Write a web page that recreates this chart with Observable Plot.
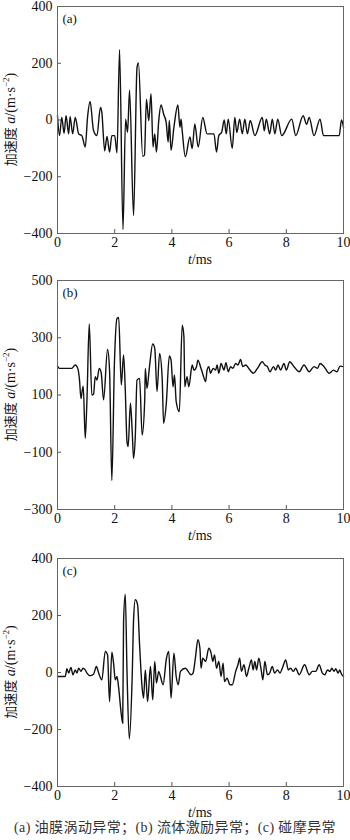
<!DOCTYPE html>
<html><head><meta charset="utf-8">
<script src="https://cdn.jsdelivr.net/npm/d3@7"></script>
<script src="https://cdn.jsdelivr.net/npm/@observablehq/plot@0.6"></script>
<style>
body{margin:0;background:#fff;width:350px;}
#chart svg{display:block;}
.cap{font-family:"Liberation Serif","Noto Sans CJK SC",serif;font-size:14px;letter-spacing:0.4px;color:#333;text-align:center;height:22px;line-height:20px;white-space:nowrap;}
</style></head><body><div id="chart"></div>
<script>
// shared x ticks (ms)
const xTicks = [0, 2, 4, 6, 8, 10];

// (a) oil whirl
const tA = [0.00,0.07,0.15,0.23,0.30,0.39,0.44,0.53,0.62,0.74,
  0.85,0.97,1.05,1.14,1.26,1.38,1.50,1.55,1.65,1.73,
  1.82,1.90,2.00,2.08,2.17,2.29,2.38,2.45,2.52,2.66,
  2.78,2.83,2.98,3.04,3.11,3.19,3.27,3.34,3.40,3.46,
  3.54,3.62,3.71,3.80,3.87,3.91,3.97,4.07,4.21,4.28,
  4.32,4.36,4.47,4.63,4.71,4.80,4.92,5.08,5.23,5.47,
  5.56,5.64,5.74,5.83,5.90,5.97,6.11,6.20,6.27,6.37,
  6.46,6.55,6.64,6.74,6.90,7.16,7.23,7.30,7.42,7.51,
  7.60,7.70,7.84,8.19,8.33,8.59,8.71,8.80,8.97,9.18,
  9.30,9.85,9.93,10.0];
const aA = [15,-55,9,-47,15,-49,12,-49,9,-49,
  -55,-95,9,65,-37,-55,44,27,-109,-58,
  -113,-55,-55,-116,248,-386,3,-43,105,-337,
  184,201,-128,-124,73,-2,93,-95,-49,-113,
  -2,53,21,-8,-78,-2,-107,-26,53,-26,
  3,-37,-130,-60,-101,-14,-95,9,-49,-49,
  -113,-55,-43,0,-49,3,-100,9,-44,3,
  -49,3,-49,-2,-55,9,-38,3,-49,3,
  -49,3,-55,3,-55,15,-15,9,-55,3,
  -55,-55,0,-26];
const yTicksA = [-400, -200, 0, 200, 400];

// (b) fluid excitation
const tB = [0.00,0.07,0.50,0.62,0.71,0.77,0.82,0.86,0.90,0.97,
  1.03,1.11,1.20,1.26,1.32,1.38,1.46,1.53,1.61,1.75,
  1.82,1.90,1.99,2.08,2.14,2.23,2.31,2.37,2.43,2.47,
  2.55,2.61,2.66,2.72,2.78,2.87,2.96,3.05,3.07,3.13,
  3.21,3.33,3.40,3.48,3.57,3.66,3.71,3.80,3.91,3.97,
  4.04,4.09,4.15,4.26,4.36,4.42,4.45,4.53,4.59,4.71,
  4.77,4.86,4.91,
  5.00,5.09,5.18,5.23,5.29,5.35,5.44,5.53,5.58,5.64,
  5.72,5.82,5.89,5.97,6.05,6.13,6.23,6.31,6.40,6.48,
  6.58,6.73,6.85,6.99,7.16,7.25,7.34,7.43,7.55,7.63,
  7.71,7.80,7.92,8.00,8.12,8.27,8.45,8.62,8.80,8.97,
  9.09,9.18,9.32,9.50,9.65,9.77,9.88,10.0];
const aB = [201,193,193,205,193,152,88,112,131,-51,
  83,348,100,103,164,152,193,176,83,259,
  187,-199,210,367,371,135,240,117,-63,-80,
  71,-22,-121,-45,152,158,-40,83,193,123,
  193,278,263,112,245,158,1,65,236,222,
  129,170,77,42,344,304,129,164,129,205,
  187,199,222,
  199,170,147,187,199,176,193,187,205,176,
  210,187,213,181,199,193,210,205,224,199,
  205,187,176,193,216,205,199,181,199,187,
  205,187,210,187,216,199,181,205,181,199,
  193,210,199,176,187,181,201,199];
const yTicksB = [-300, -100, 100, 300, 500];

// (c) rub-impact
const tC = [0,0.27,0.33,0.39,0.47,0.54,0.62,0.68,0.74,0.82,
  0.89,0.97,1.03,1.14,1.26,1.36,1.44,1.55,1.67,1.75,
  1.82,1.90,1.96,2.02,2.08,2.14,2.22,2.28,2.31,2.37,
  2.43,2.51,2.61,2.66,2.72,2.80,2.87,2.96,3.01,3.07,
  3.15,3.25,3.33,3.40,3.46,3.54,3.60,3.69,3.81,3.89,
  3.97,4.07,4.15,4.22,4.30,4.47,4.67,4.74,4.82,4.91,
  4.98,5.02,5.08,5.18,5.29,5.37,5.43,5.49,5.56,5.64,
  5.72,5.79,5.84,5.93,6.03,6.11,6.23,6.31,6.37,6.43,
  6.52,6.61,6.69,6.78,6.84,6.90,6.96,7.04,7.13,7.18,
  7.25,7.34,7.42,7.51,7.59,7.69,7.78,7.86,7.98,8.07,
  8.15,8.25,8.33,8.45,8.64,8.80,8.91,9.03,9.15,9.26,
  9.35,9.44,9.53,9.59,9.67,9.73,9.81,9.87,9.93,10.0];
const aC = [-14,-14,13,-2,18,-8,9,-2,15,4,
  15,9,-2,-11,-6,21,-2,-26,74,62,
  -102,71,33,-26,-14,-55,-137,-178,179,275,
  4,-233,-20,185,255,238,97,-55,-90,9,
  -102,21,-96,39,-37,4,-14,-43,50,74,
  -90,68,-14,-43,4,15,-8,-2,50,115,
  85,15,50,39,85,68,39,62,15,39,
  -14,33,-32,-20,-43,-43,4,27,50,4,
  27,-14,15,44,9,39,9,50,4,-26,
  39,-8,-2,21,-2,9,-2,15,44,9,
  15,4,15,-8,27,-8,4,4,27,-2,
  -8,9,4,15,4,13,-2,9,-6,-14];
const yTicksC = [-400, -200, 0, 200, 400];

const panelLabels = ["(a)", "(b)", "(c)"];
const caption = "(a) 油膜涡动异常；(b) 流体激励异常；(c) 碰摩异常";

const panels = [
  {label: panelLabels[0], t: tA, a: aA, yTicks: yTicksA, height: 268, mt: 6, mb: 35},
  {label: panelLabels[1], t: tB, a: aB, yTicks: yTicksB, height: 277, mt: 12, mb: 36},
  {label: panelLabels[2], t: tC, a: aC, yTicks: yTicksC, height: 273, mt: 13, mb: 32}
];

const root = document.getElementById("chart");
const ML = 57, MR = 7, W = 350;
const SERIF = "Liberation Serif";

for (const p of panels) {
  const data = p.t.map((t, i) => ({t, a: p.a[i]}));
  const yDomain = [p.yTicks[0], p.yTicks[p.yTicks.length - 1]];
  const chart = Plot.plot({
    width: W, height: p.height,
    marginLeft: ML, marginRight: MR, marginTop: p.mt, marginBottom: p.mb,
    style: {fontFamily: "'Liberation Serif', serif", fontSize: "14px", color: "#111", background: "#fff", overflow: "visible"},
    x: {domain: [0, 10], label: null},
    y: {domain: yDomain, label: null},
    marks: [
      Plot.axisX(xTicks, {tickSize: -4, tickFormat: () => "", stroke: "#555"}),
      Plot.axisY(p.yTicks, {tickSize: -4, tickFormat: () => "", stroke: "#555"}),
      Plot.axisX(xTicks, {tickSize: 0, tickPadding: 4, fontSize: 14, fontFamily: SERIF}),
      Plot.axisY(p.yTicks, {tickSize: 0, tickPadding: 5, fontSize: 14, fontFamily: SERIF}),
      Plot.line(data, {x: "t", y: "a", curve: "monotone-x", stroke: "#111", strokeWidth: 1.4}),
      Plot.frame({stroke: "#666", strokeWidth: 1}),
      Plot.text([p.label], {text: d => d, frameAnchor: "top-left", dx: 5, dy: 7, fontSize: 13, fontFamily: SERIF, fill: "#111"})
    ]
  });
  const svg = d3.select(chart);
  const frameBottom = p.height - p.mb;
  const frameMid = (p.mt + frameBottom) / 2;
  // x label  t/ms
  const xl = svg.append("text")
    .attr("x", (ML + W - MR) / 2).attr("y", frameBottom + 31)
    .attr("text-anchor", "middle").attr("font-size", 14)
    .attr("font-family", "'Liberation Serif', serif").attr("fill", "#111");
  xl.append("tspan").attr("font-style", "italic").text("t");
  xl.append("tspan").text("/ms");
  // y label 加速度 a/(m·s^-2)
  const yl = svg.append("text")
    .attr("transform", `translate(14.5,${frameMid}) rotate(-90)`)
    .attr("text-anchor", "middle").attr("font-size", 14)
    .attr("font-family", "'Liberation Serif', 'Noto Sans CJK SC', serif").attr("fill", "#111");
  yl.append("tspan").attr("font-family", "'Noto Sans CJK SC', sans-serif").attr("font-size", 13).text("加速度");
  yl.append("tspan").text(" ");
  yl.append("tspan").attr("font-style", "italic").text("a");
  yl.append("tspan").text("/(m·s");
  yl.append("tspan").attr("font-size", 9).attr("dy", -6).text("−2");
  yl.append("tspan").attr("dy", 6).text(")");
  root.appendChild(chart);
}

const cap = document.createElement("div");
cap.className = "cap";
cap.textContent = caption;
root.appendChild(cap);
</script>
</body></html>
